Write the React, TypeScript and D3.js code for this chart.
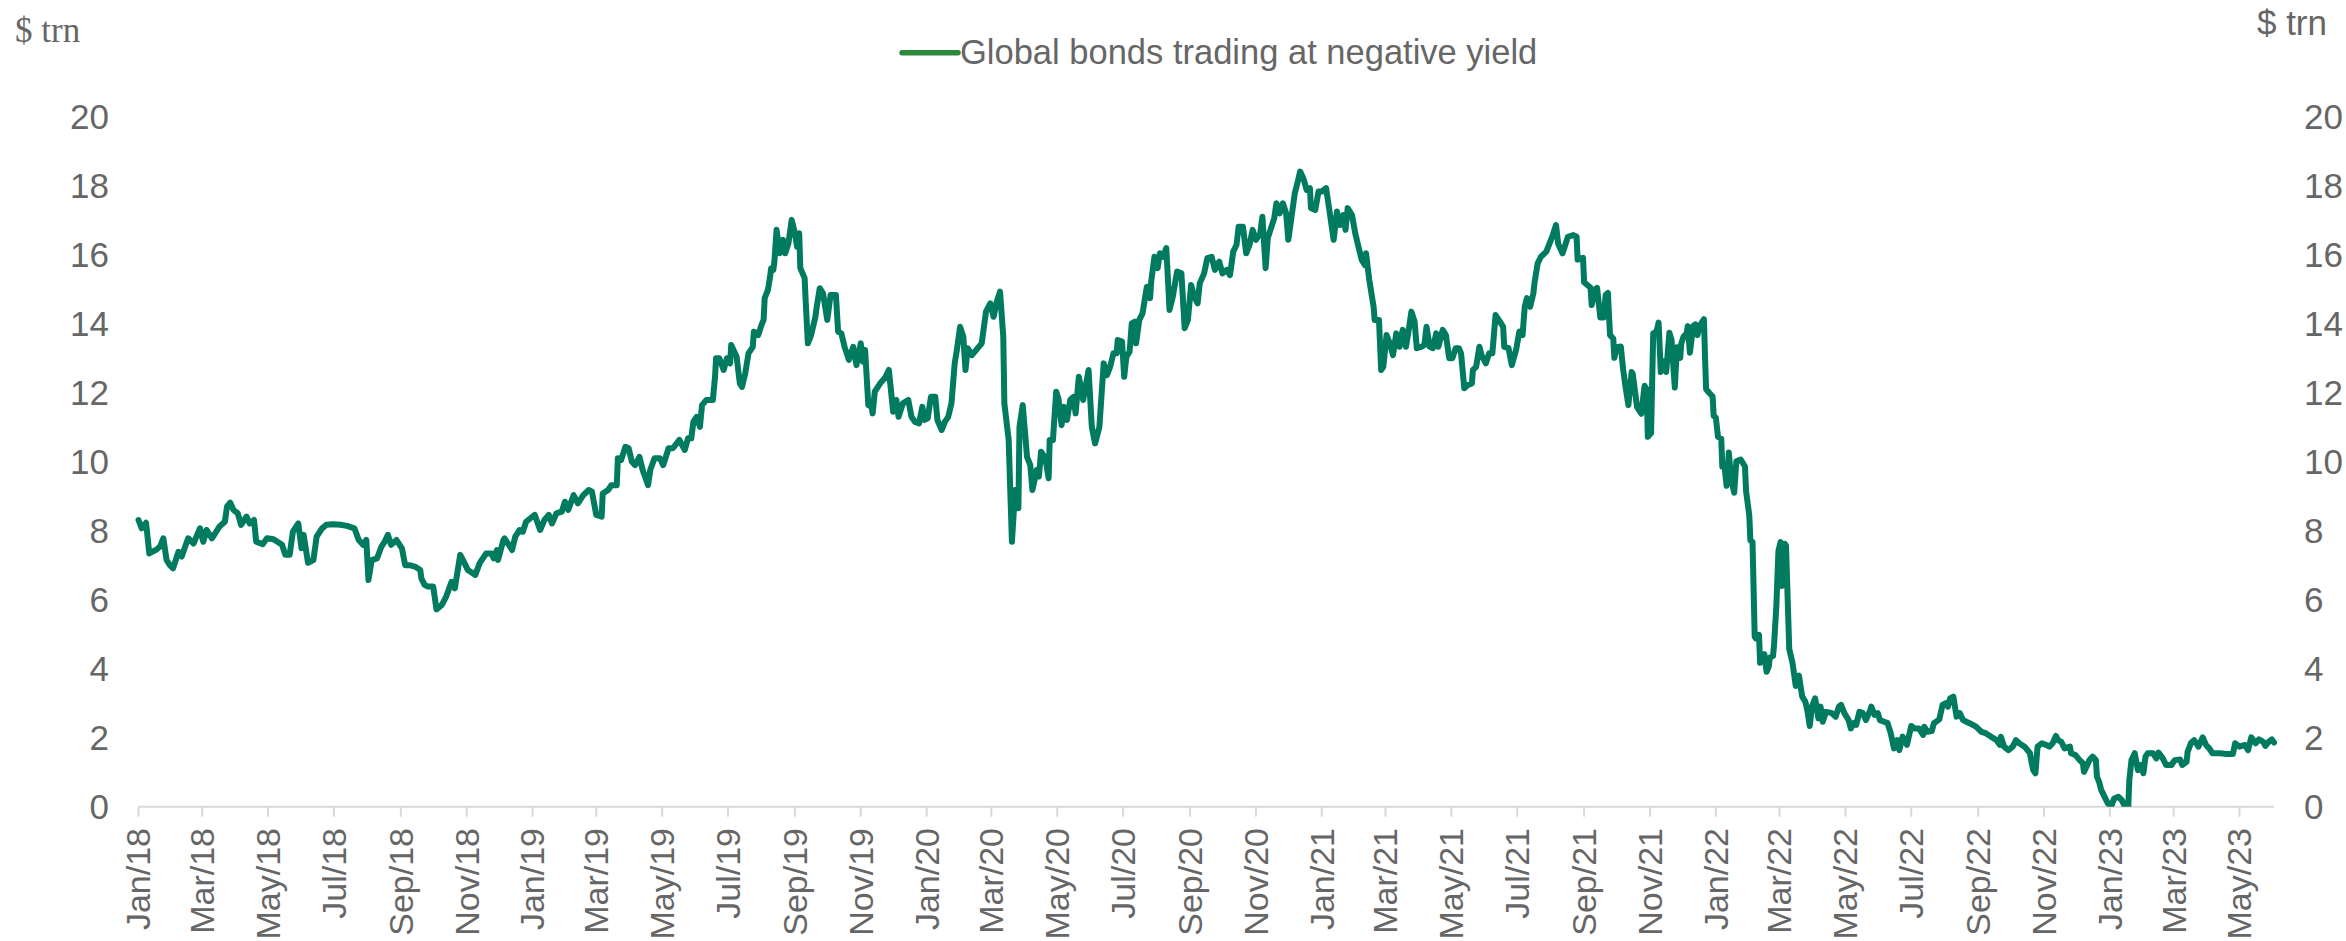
import React from "react";
import * as d3 from "d3";

// ---- data ----
const START_DATE = "2018-01-01";
const SERIES_NAME = "Global bonds trading at negative yield";
const UNIT_LABEL = "$ trn";

// days since START_DATE
const dayOffsets = [
  0, 3, 7, 10, 17, 20, 23, 26, 29, 32, 37, 40, 46, 51, 57, 60, 63, 68, 75, 80,
  82, 85, 88, 92, 95, 100, 103, 107, 109, 115, 119, 125, 133, 136, 140, 143, 148, 151, 153, 157,
  162, 165, 170, 174, 180, 187, 193, 200, 204, 208, 211, 213, 216, 221, 225, 228, 231, 234, 239, 244,
  247, 251, 256, 261, 262, 265, 268, 273, 276, 281, 285, 290, 293, 298, 302, 305, 312, 316, 322, 327,
  329, 332, 333, 338, 339, 343, 346, 349, 353, 356, 359, 363, 367, 372, 376, 380, 383, 387, 392, 395,
  398, 403, 407, 412, 417, 420, 424, 429, 430, 435, 438, 443, 444, 447, 451, 454, 457, 460, 464, 467,
  472, 474, 478, 483, 486, 491, 495, 501, 506, 509, 512, 514, 517, 520, 522, 526, 532, 534, 535, 538,
  542, 545, 548, 549, 554, 557, 559, 562, 565, 569, 570, 574, 577, 579, 580, 583, 585, 586, 588, 589,
  591, 594, 597, 599, 602, 605, 608, 610, 612, 613, 617, 618, 620, 623, 627, 628, 631, 634, 638, 641,
  646, 648, 651, 654, 658, 662, 665, 669, 671, 673, 676, 679, 680, 682, 687, 692, 695, 699, 702, 704,
  708, 713, 716, 719, 723, 726, 728, 731, 734, 738, 740, 744, 747, 750, 753, 755, 756, 758, 761, 764,
  766, 768, 772, 776, 781, 785, 789, 792, 795, 798, 801, 802, 806, 809, 812, 815, 816, 819, 823, 826,
  828, 832, 834, 836, 840, 843, 844, 847, 850, 852, 855, 857, 860, 863, 866, 868, 871, 875, 880, 883,
  886, 890, 894, 897, 900, 903, 906, 907, 911, 913, 915, 918, 920, 923, 924, 927, 930, 934, 937, 938,
  941, 944, 946, 949, 952, 955, 958, 962, 966, 969, 972, 975, 978, 981, 983, 987, 990, 994, 997, 1001,
  1004, 1008, 1011, 1014, 1017, 1019, 1023, 1026, 1029, 1032, 1035, 1039, 1041, 1044, 1046, 1049, 1052, 1054, 1057, 1060,
  1063, 1065, 1068, 1071, 1073, 1076, 1079, 1082, 1085, 1086, 1090, 1093, 1096, 1100, 1103, 1107, 1110, 1113, 1116, 1118,
  1120, 1124, 1127, 1130, 1133, 1136, 1137, 1140, 1144, 1145, 1149, 1151, 1153, 1156, 1159, 1162, 1165, 1168, 1171, 1174,
  1177, 1179, 1182, 1184, 1188, 1191, 1193, 1196, 1199, 1202, 1204, 1208, 1211, 1214, 1217, 1220, 1223, 1225, 1228, 1231,
  1235, 1236, 1239, 1242, 1244, 1248, 1251, 1254, 1257, 1261, 1264, 1265, 1269, 1272, 1276, 1279, 1282, 1284, 1286, 1289,
  1292, 1293, 1296, 1299, 1304, 1307, 1310, 1313, 1315, 1319, 1324, 1329, 1332, 1333, 1338, 1339, 1345, 1346, 1349, 1351,
  1354, 1357, 1359, 1361, 1363, 1366, 1367, 1369, 1373, 1375, 1377, 1380, 1383, 1384, 1388, 1390, 1392, 1395, 1397, 1398,
  1401, 1403, 1406, 1408, 1410, 1413, 1415, 1418, 1420, 1423, 1425, 1428, 1429, 1431, 1434, 1435, 1437, 1440, 1442, 1444,
  1446, 1450, 1451, 1452, 1455, 1458, 1459, 1461, 1463, 1466, 1467, 1469, 1471, 1473, 1475, 1477, 1478, 1480, 1484, 1488,
  1489, 1492, 1493, 1495, 1497, 1498, 1501, 1502, 1504, 1506, 1508, 1510, 1511, 1514, 1515, 1517, 1519, 1521, 1522, 1525,
  1526, 1529, 1532, 1535, 1538, 1541, 1544, 1546, 1548, 1550, 1553, 1556, 1558, 1560, 1563, 1568, 1572, 1575, 1577, 1580,
  1584, 1586, 1589, 1591, 1594, 1597, 1600, 1604, 1605, 1608, 1611, 1613, 1617, 1620, 1623, 1626, 1629, 1631, 1634, 1638,
  1642, 1645, 1649, 1653, 1654, 1657, 1661, 1663, 1668, 1671, 1674, 1676, 1678, 1681, 1684, 1687, 1690, 1696, 1702, 1707,
  1711, 1716, 1721, 1724, 1725, 1728, 1732, 1736, 1739, 1742, 1747, 1752, 1753, 1755, 1757, 1759, 1763, 1767, 1770, 1773,
  1776, 1778, 1781, 1784, 1789, 1790, 1794, 1798, 1801, 1802, 1805, 1807, 1810, 1813, 1814, 1816, 1818, 1821, 1824, 1827,
  1830, 1834, 1837, 1840, 1843, 1844, 1846, 1849, 1852, 1855, 1857, 1859, 1861, 1866, 1869, 1871, 1875, 1878, 1883, 1886,
  1891, 1893, 1897, 1898, 1901, 1904, 1908, 1912, 1915, 1918, 1921, 1928, 1934, 1940, 1942, 1946, 1951, 1954, 1957, 1961,
  1964, 1968, 1970, 1973, 1976, 1978,
];

// $ trn
const bondValues = [
  8.31, 8.07, 8.23, 7.34, 7.46, 7.54, 7.78, 7.15, 7.0, 6.91, 7.39, 7.25, 7.78, 7.63, 8.07, 7.68, 8.02, 7.78, 8.12, 8.26,
  8.7, 8.81, 8.6, 8.5, 8.17, 8.41, 8.21, 8.31, 7.68, 7.61, 7.78, 7.75, 7.59, 7.3, 7.3, 7.97, 8.21, 7.49, 7.88, 7.07,
  7.15, 7.83, 8.07, 8.17, 8.19, 8.17, 8.14, 8.07, 7.73, 7.59, 7.73, 6.57, 7.15, 7.2, 7.54, 7.68, 7.88, 7.59, 7.73, 7.49,
  7.0, 7.0, 6.96, 6.86, 6.62, 6.43, 6.38, 6.38, 5.72, 5.85, 6.09, 6.52, 6.33, 7.3, 7.06, 6.86, 6.72, 7.06, 7.34, 7.34,
  7.2, 7.44, 7.15, 7.73, 7.78, 7.59, 7.44, 7.83, 8.02, 7.97, 8.26, 8.36, 8.46, 8.02, 8.31, 8.46, 8.21, 8.5, 8.55, 8.84,
  8.6, 9.03, 8.79, 9.03, 9.18, 9.13, 8.46, 8.41, 9.08, 9.18, 9.32, 9.32, 10.1, 10.05, 10.43, 10.39, 10.0, 9.9, 10.14, 9.76,
  9.32, 9.76, 10.1, 10.1, 9.9, 10.39, 10.39, 10.63, 10.34, 10.68, 10.68, 11.16, 11.3, 11.01, 11.64, 11.79, 11.79, 12.46, 13.0, 13.0,
  12.66, 13.0, 12.85, 13.38, 13.04, 12.27, 12.17, 12.56, 13.14, 13.33, 13.77, 13.67, 13.96, 14.11, 14.74, 14.98, 15.36, 15.61, 15.56, 15.8,
  16.72, 16.04, 16.43, 16.04, 16.33, 17.01, 16.62, 16.23, 16.62, 15.61, 15.32, 14.64, 13.43, 13.67, 14.2, 14.45, 15.03, 14.88, 14.11, 14.83,
  14.83, 13.77, 13.72, 13.33, 12.95, 13.33, 12.8, 13.43, 12.9, 13.24, 11.64, 11.59, 11.4, 12.03, 12.27, 12.46, 12.66, 11.45, 11.79, 11.3,
  11.69, 11.79, 11.3, 11.16, 11.11, 11.59, 11.21, 11.26, 11.88, 11.88, 11.21, 10.92, 11.16, 11.3, 11.69, 12.46, 12.85, 13.24, 13.91, 13.62,
  12.66, 13.29, 13.09, 13.24, 13.43, 14.35, 14.59, 14.2, 14.64, 14.93, 13.62, 11.69, 10.63, 7.68, 9.18, 8.65, 11.01, 11.64, 10.14, 9.9,
  9.18, 9.76, 9.57, 10.29, 10.1, 9.52, 10.63, 10.63, 12.03, 11.84, 11.06, 11.59, 11.21, 11.79, 11.88, 11.4, 12.46, 11.79, 12.66, 11.01,
  10.53, 11.0, 12.85, 12.51, 12.75, 13.14, 13.14, 13.53, 13.48, 12.46, 13.04, 13.19, 14.01, 14.06, 13.43, 14.11, 14.3, 15.07, 14.74, 15.22,
  15.94, 15.61, 16.04, 15.94, 16.19, 14.4, 14.78, 15.51, 15.46, 13.87, 14.11, 15.12, 14.78, 14.59, 15.17, 15.46, 15.9, 15.94, 15.56, 15.8,
  15.46, 15.56, 15.41, 16.09, 16.28, 16.81, 16.81, 16.04, 16.28, 16.72, 16.43, 16.62, 17.1, 15.61, 16.48, 16.77, 17.06, 17.49, 17.2, 17.49,
  17.2, 16.43, 17.1, 17.78, 18.02, 18.41, 18.21, 17.88, 17.93, 17.35, 17.3, 17.83, 17.83, 17.93, 17.3, 16.43, 17.25, 16.86, 17.15, 16.72,
  17.35, 17.15, 16.62, 16.23, 15.85, 15.7, 16.04, 15.27, 14.49, 14.11, 14.11, 12.66, 12.75, 13.67, 13.43, 13.09, 13.72, 13.33, 13.82, 13.33,
  13.91, 14.35, 14.06, 13.29, 13.33, 13.38, 13.91, 13.33, 13.29, 13.72, 13.33, 13.82, 13.67, 13.0, 13.0, 13.29, 13.29, 13.14, 12.13, 12.22,
  12.27, 12.66, 12.75, 13.33, 13.09, 12.85, 13.14, 13.14, 14.25, 14.06, 13.91, 13.33, 13.29, 12.8, 13.24, 13.77, 13.67, 14.49, 14.74, 14.49,
  14.88, 15.17, 15.75, 15.94, 16.09, 16.33, 16.57, 16.86, 16.31, 16.04, 16.52, 16.57, 16.52, 15.86, 15.91, 15.2, 15.04, 14.54, 14.99, 15.04,
  14.18, 14.18, 14.84, 14.89, 13.67, 13.57, 13.01, 13.32, 13.34, 12.71, 12.25, 11.64, 12.6, 12.55, 11.59, 11.49, 11.39, 12.2, 12.1, 10.72,
  10.83, 13.72, 13.77, 14.03, 12.6, 12.91, 12.6, 13.74, 13.52, 12.15, 13.32, 13.01, 13.42, 13.62, 13.72, 13.93, 13.16, 13.93, 13.98, 13.67,
  13.93, 14.13, 13.01, 12.1, 11.99, 11.89, 11.33, 11.28, 10.72, 10.67, 9.86, 9.86, 9.3, 10.27, 9.55, 9.25, 9.1, 10.01, 10.06, 9.86,
  9.15, 8.44, 7.72, 7.67, 4.93, 4.88, 4.98, 4.17, 4.27, 4.42, 3.91, 4.06, 4.32, 4.37, 4.72, 5.79, 7.42, 7.67, 6.4, 7.62,
  7.57, 4.57, 4.17, 3.5, 3.8, 3.19, 3.04, 2.75, 2.34, 2.9, 3.14, 2.56, 2.9, 2.46, 2.75, 2.72, 2.61, 2.9, 2.95, 2.71,
  2.51, 2.27, 2.43, 2.37, 2.75, 2.72, 2.51, 2.8, 2.9, 2.66, 2.71, 2.51, 2.46, 2.43, 2.13, 1.69, 1.93, 1.64, 2.03, 1.79,
  2.34, 2.27, 2.27, 2.08, 2.32, 2.17, 2.19, 2.42, 2.53, 2.95, 3.0, 2.9, 3.14, 3.19, 2.61, 2.71, 2.51, 2.42, 2.32, 2.17,
  2.13, 2.03, 1.93, 1.79, 2.03, 1.74, 1.64, 1.74, 1.93, 1.84, 1.74, 1.55, 1.35, 1.06, 0.97, 1.74, 1.84, 1.79, 1.74, 1.84,
  2.05, 1.93, 1.88, 1.69, 1.74, 1.55, 1.5, 1.35, 1.26, 1.01, 1.21, 1.35, 1.45, 1.35, 0.87, 0.72, 0.48, 0.29, 0.1, 0.0,
  0.24, 0.29, 0.19, 0.0, 0.0, 0.77, 1.35, 1.55, 1.06, 1.21, 0.97, 1.45, 1.55, 1.55, 1.4, 1.57, 1.4, 1.21, 1.21, 1.35,
  1.37, 1.21, 1.3, 1.59, 1.84, 1.93, 1.74, 2.01, 1.79, 1.69, 1.55, 1.55, 1.53, 1.53, 1.84, 1.74, 1.79, 1.64, 2.01, 1.84,
  1.95, 1.88, 1.76, 1.88, 1.95, 1.86,
];

const xTickLabels = [
  "Jan/18", "Mar/18", "May/18", "Jul/18", "Sep/18", "Nov/18",
  "Jan/19", "Mar/19", "May/19", "Jul/19", "Sep/19", "Nov/19",
  "Jan/20", "Mar/20", "May/20", "Jul/20", "Sep/20", "Nov/20",
  "Jan/21", "Mar/21", "May/21", "Jul/21", "Sep/21", "Nov/21",
  "Jan/22", "Mar/22", "May/22", "Jul/22", "Sep/22", "Nov/22",
  "Jan/23", "Mar/23", "May/23",
];

const yTicks = [0, 2, 4, 6, 8, 10, 12, 14, 16, 18, 20];

// ---- layout / style ----
const W = 2346;
const H = 941;
const PLOT = { left: 138.5, right: 2274, top: 116.7, bottom: 806.7 };
const LINE_COLOR = "#007b5f";
const LEGEND_COLOR = "#2b8a3a";
const TEXT_COLOR = "#666666";
const AXIS_COLOR = "#d9d9d9";
const SANS = "'Liberation Sans', Arial, sans-serif";
const SERIF = "'Liberation Serif', 'Times New Roman', serif";

export default function App() {
  const parseDay = d3.timeParse("%Y-%m-%d");
  const parseTick = d3.timeParse("%b/%y");
  const start = parseDay(START_DATE) as Date;

  const data = dayOffsets.map((d, i) => ({
    date: d3.timeDay.offset(start, d),
    value: bondValues[i],
  }));

  const x = d3
    .scaleTime()
    .domain(d3.extent(data, (d) => d.date) as [Date, Date])
    .range([PLOT.left, PLOT.right]);

  const y = d3.scaleLinear().domain([0, 20]).range([PLOT.bottom, PLOT.top]);

  const line = d3
    .line<{ date: Date; value: number }>()
    .x((d) => x(d.date))
    .y((d) => y(d.value));

  const ticks = xTickLabels.map((label) => ({ label, date: parseTick(label) as Date }));

  return (
    <div style={{ position: "absolute", left: 0, top: 0 }}>
      <svg width={W} height={H} style={{ display: "block", background: "#ffffff" }}>
        <defs>
          <clipPath id="plotClip">
            <rect x={PLOT.left - 10} y={0} width={PLOT.right - PLOT.left + 20} height={PLOT.bottom} />
          </clipPath>
        </defs>

        {/* unit labels */}
        <text x={15} y={42} fontFamily={SERIF} fontSize={35} fill={TEXT_COLOR}>
          {UNIT_LABEL}
        </text>
        <text x={2327} y={35} fontFamily={SANS} fontSize={35} fill={TEXT_COLOR} textAnchor="end">
          {UNIT_LABEL}
        </text>

        {/* legend */}
        <line x1={902} x2={958} y1={52.7} y2={52.7} stroke={LEGEND_COLOR} strokeWidth={5.5} strokeLinecap="round" />
        <text x={960} y={64} fontFamily={SANS} fontSize={34.5} fill={TEXT_COLOR}>
          {SERIES_NAME}
        </text>

        {/* y tick labels, left and right */}
        {yTicks.map((t) => (
          <g key={t}>
            <text x={109} y={y(t)} dy="0.35em" textAnchor="end" fontFamily={SANS} fontSize={35} fill={TEXT_COLOR}>
              {t}
            </text>
            <text x={2304} y={y(t)} dy="0.35em" textAnchor="start" fontFamily={SANS} fontSize={35} fill={TEXT_COLOR}>
              {t}
            </text>
          </g>
        ))}

        {/* x axis */}
        <line x1={PLOT.left} x2={PLOT.right} y1={PLOT.bottom} y2={PLOT.bottom} stroke={AXIS_COLOR} strokeWidth={2} />
        {ticks.map((t) => {
          const tx = x(t.date);
          return (
            <g key={t.label}>
              <line x1={tx} x2={tx} y1={PLOT.bottom} y2={PLOT.bottom + 10} stroke={AXIS_COLOR} strokeWidth={2} />
              <text
                transform={`translate(${tx},${828}) rotate(-90)`}
                dy="0.35em"
                textAnchor="end"
                fontFamily={SANS}
                fontSize={34}
                fill={TEXT_COLOR}
              >
                {t.label}
              </text>
            </g>
          );
        })}

        {/* series */}
        <path
          d={line(data) || ""}
          fill="none"
          stroke={LINE_COLOR}
          strokeWidth={6}
          strokeLinejoin="round"
          strokeLinecap="round"
          clipPath="url(#plotClip)"
        />
      </svg>
    </div>
  );
}
